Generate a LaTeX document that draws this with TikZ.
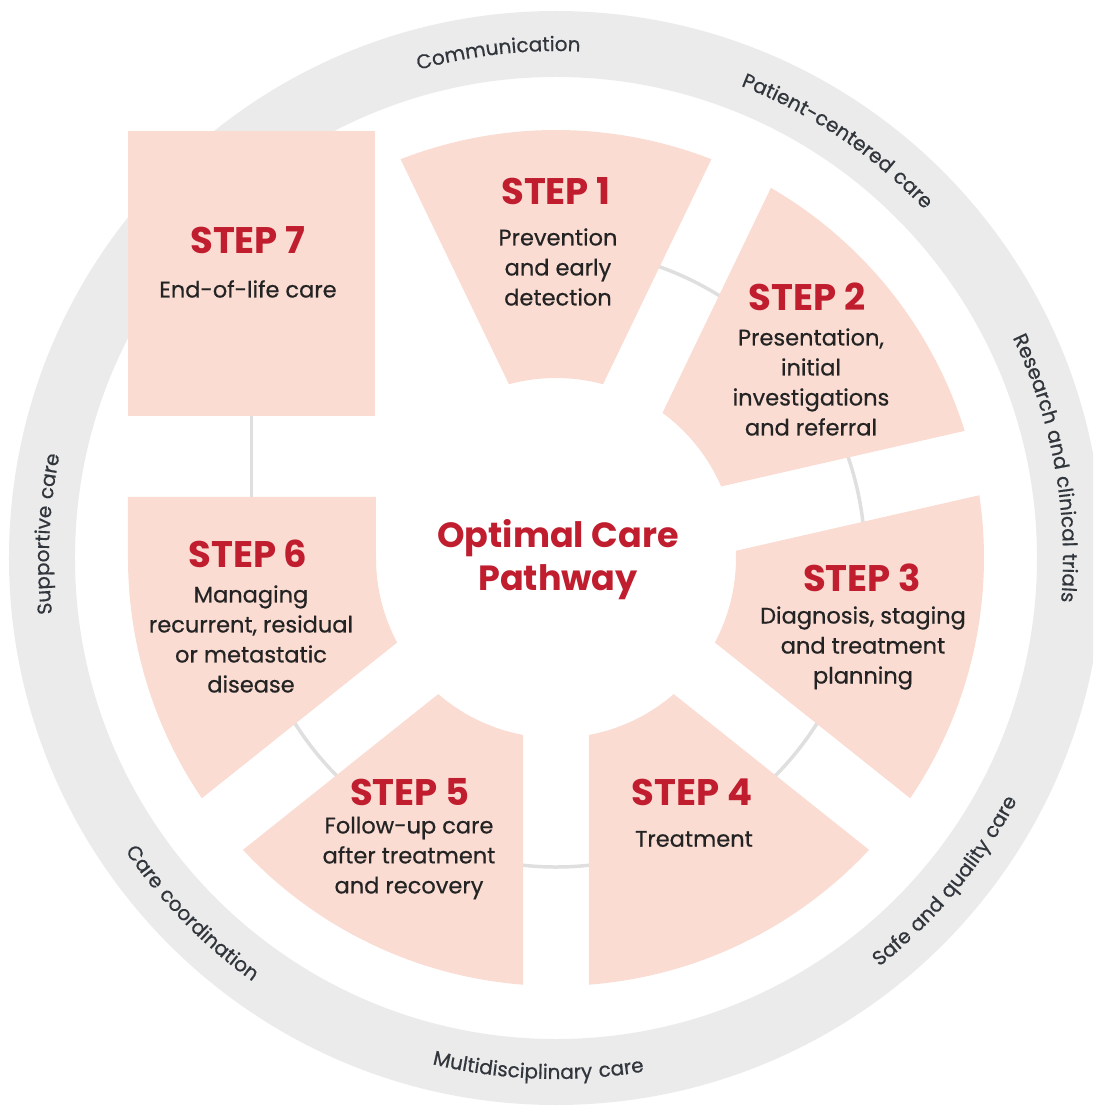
\documentclass[tikz,border=0pt]{standalone}
\usepackage{fontspec}
\setmainfont{Poppins}
\newfontfamily\bodyfont[FakeBold=0.6]{Poppins}
\newfontfamily\ringfont[LetterSpace=6,FakeBold=0.6]{Poppins}
\usepackage{tikz}
\usetikzlibrary{decorations.text}
\definecolor{pinkfill}{HTML}{FADCD3}
\definecolor{stepred}{HTML}{C01D2E}
\definecolor{bodytext}{HTML}{232323}
\definecolor{ringfill}{HTML}{EAEBEA}
\definecolor{ringtext}{HTML}{31353C}
\definecolor{linkgray}{HTML}{DEDFDE}
\newcommand{\halfseg}{25.714}
\tikzset{
  wedge/.style={fill=pinkfill},
  steptitle/.style={text=stepred, font=\bfseries\fontsize{37}{40}\selectfont},
  stepbody/.style={text=bodytext, align=center, font=\bodyfont\fontsize{22.5}{30}\selectfont},
  centretitle/.style={text=stepred, align=center, font=\bfseries\fontsize{35}{43}\selectfont},
  link/.style={draw=linkgray, line width=3.5pt},
  ringlabel/.style={decorate, decoration={text along path, text align=center,
    text color=ringtext, text={|\ringfont\fontsize{20}{22}\selectfont|#1}}},
}
\newcommand{\stepwedge}[1]{%
  \fill[wedge] ({#1+\halfseg-asin(33/428)}:428)
    arc[start angle={#1+\halfseg-asin(33/428)}, end angle={#1-\halfseg+asin(33/428)}, radius=428]
    -- ({#1-\halfseg+asin(33/180)}:180)
    arc[start angle={#1-\halfseg+asin(33/180)}, end angle={#1+\halfseg-asin(33/180)}, radius=180]
    -- cycle;}

\begin{document}
\begin{tikzpicture}[x=1pt,y=1pt]
  \clip (-556,-548) rectangle (537,558);
  \coordinate (O) at (0,0);
  \fill[ringfill, even odd rule] (O) circle[radius=547] circle[radius=481];

  \path[ringlabel=Communication] (136.5:507) arc[start angle=136.5, end angle=56.5, radius=507];
  \path[ringlabel=Patient-centered care] (96:507) arc[start angle=96, end angle=16, radius=507];
  \path[ringlabel=Research and clinical trials] (50.4:507) arc[start angle=50.4, end angle=-29.6, radius=507];
  \path[ringlabel=Supportive care] (217.3:507) arc[start angle=217.3, end angle=137.3, radius=507];
  \path[ringlabel=Safe and quality care] (-79.7:521) arc[start angle=-79.7, end angle=0.3, radius=521];
  \path[ringlabel=Multidisciplinary care] (-132:521) arc[start angle=-132, end angle=-52, radius=521];
  \path[ringlabel=Care coordination] (184.3:521) arc[start angle=184.3, end angle=264.3, radius=521];

  \draw[link] (100:309) arc[start angle=100, end angle=-190, radius=309];
  \node[wedge, minimum width=247pt, minimum height=285pt, inner sep=0pt] (box7) at (-304.5,284.5) {};
  \coordinate (top6) at (-304.5,61);
  \draw[link] (box7.south) -- (top6);

  \foreach \a in {90,38.571,-12.857,-64.286,-115.714} {\stepwedge{\a}}
  \fill[wedge] (-428,61) -- (-180,61) -- (-180,0)
    arc[start angle=180, end angle={218.571-asin(33/180)}, radius=180]
    -- ({218.571-asin(33/428)}:428)
    arc[start angle={218.571-asin(33/428)}, end angle=180, radius=428] -- cycle;

  \node[steptitle] (t1) at (0,367) {STEP 1};
  \node[stepbody] (d1) at (2,291) {Prevention\\and early\\detection};
  \node[steptitle] (t2) at (251,261) {STEP 2};
  \node[stepbody] (d2) at (255,176) {Presentation,\\initial\\investigations\\and referral};
  \node[steptitle] (t3) at (306,-20) {STEP 3};
  \node[stepbody] (d3) at (307,-90) {Diagnosis, staging\\and treatment\\planning};
  \node[steptitle] (t4) at (136,-234) {STEP 4};
  \node[stepbody] (d4) at (138,-281) {Treatment};
  \node[steptitle] (t5) at (-146,-234) {STEP 5};
  \node[stepbody] (d5) at (-147,-300) {Follow-up care\\after treatment\\and recovery};
  \node[steptitle] (t6) at (-308,4) {STEP 6};
  \node[stepbody] (d6) at (-305,-81) {Managing\\recurrent, residual\\or metastatic\\disease};
  \node[steptitle] (t7) at (-308,318) {STEP 7};
  \node[stepbody] (d7) at (-308,269) {End-of-life care};
  \node[centretitle] (ocp) at (2,-2) {Optimal Care\\Pathway};
\end{tikzpicture}
\end{document}
